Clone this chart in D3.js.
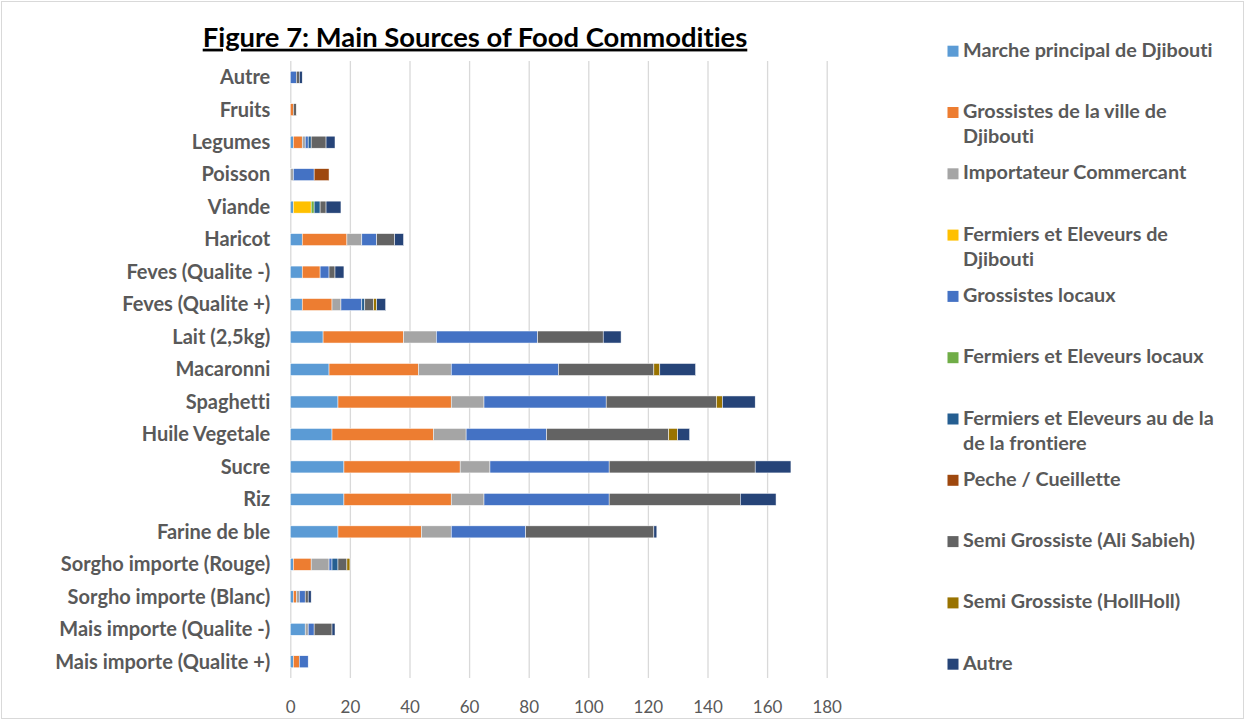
<!DOCTYPE html>
<html>
<head>
<meta charset="utf-8">
<script src="https://cdn.jsdelivr.net/npm/d3@7"></script>
<style>
  html, body { margin: 0; padding: 0; background: #fff; }
  svg { display: block; }
  text { font-variant-ligatures: none; font-feature-settings: "liga" 0, "clig" 0; }
</style>
</head>
<body>
<svg id="chart" width="1246" height="721"></svg>
<script>
const categories = ["Autre","Fruits","Legumes","Poisson","Viande","Haricot","Feves (Qualite -)","Feves (Qualite +)","Lait (2,5kg)","Macaronni","Spaghetti","Huile Vegetale","Sucre","Riz","Farine de ble","Sorgho importe (Rouge)","Sorgho importe (Blanc)","Mais importe (Qualite -)","Mais importe (Qualite +)"];

const seriesNames = ["Marche principal de Djibouti","Grossistes de la ville de Djibouti","Importateur Commercant","Fermiers et Eleveurs de Djibouti","Grossistes locaux","Fermiers et Eleveurs locaux","Fermiers et Eleveurs au de la de la frontiere","Peche / Cueillette","Semi Grossiste (Ali Sabieh)","Semi Grossiste (HollHoll)","Autre"];

const seriesColors = ["#5B9BD5","#ED7D31","#A5A5A5","#FFC000","#4472C4","#70AD47","#255E91","#9E480E","#636363","#997300","#264478"];

const marchePrincipal   = [0,0,1,0,1,4,4,4,11,13,16,14,18,18,16,1,1,5,1];
const grossistesVille   = [0,1,3,0,0,15,6,10,27,30,38,34,39,36,28,6,1,0,2];
const importateur       = [0,0,1,1,0,5,0,3,11,11,11,11,10,11,10,6,1,1,0];
const fermiersDjibouti  = [0,0,0,0,6,0,0,0,0,0,0,0,0,0,0,0,0,0,0];
const grossistesLocaux  = [2,0,1,7,0,5,3,7,34,36,41,27,40,42,25,1,2,2,3];
const fermiersLocaux    = [0,0,0,0,1,0,0,0,0,0,0,0,0,0,0,0,0,0,0];
const fermiersFrontiere = [0,0,1,0,2,0,0,1,0,0,0,0,0,0,0,2,0,0,0];
const pecheCueillette   = [0,0,0,5,0,0,0,0,0,0,0,0,0,0,0,0,0,0,0];
const semiAliSabieh     = [1,1,5,0,2,6,2,3,22,32,37,41,49,44,43,3,1,6,0];
const semiHollHoll      = [0,0,0,0,0,0,0,1,0,2,2,3,0,0,0,1,0,0,0];
const autreSource       = [1,0,3,0,5,3,3,3,6,12,11,4,12,12,1,0,1,1,0];

const xTicks = [0,20,40,60,80,100,120,140,160,180];
const titleText = "Figure 7: Main Sources of Food Commodities";

const seriesValues = [marchePrincipal,grossistesVille,importateur,fermiersDjibouti,grossistesLocaux,fermiersLocaux,fermiersFrontiere,pecheCueillette,semiAliSabieh,semiHollHoll,autreSource];

const keys = seriesNames;
const table = categories.map((c, i) => {
  const row = {category: c};
  keys.forEach((k, j) => row[k] = seriesValues[j][i]);
  return row;
});

const FONT = "Lato, 'Open Sans', sans-serif";
const svg = d3.select("#chart");

// outer border
svg.append("rect").attr("x", 1.5).attr("y", 1.5).attr("width", 1242).attr("height", 717)
  .attr("fill", "#fff").attr("stroke", "#d9d9d9").attr("stroke-width", 1);

const plotTop = 61, plotBottom = 678;
const x = d3.scaleLinear().domain([0, 180]).range([290.3, 826.7]);
const y = d3.scaleBand().domain(categories).range([plotTop, plotBottom]).paddingInner(0.63).paddingOuter(0.315);
const color = d3.scaleOrdinal().domain(keys).range(seriesColors);

// gridlines
const grid = svg.append("g").attr("transform", `translate(0,${plotBottom})`)
  .call(d3.axisBottom(x).tickValues(xTicks).tickSize(-(plotBottom - plotTop)).tickFormat(""));
grid.select(".domain").remove();
grid.selectAll("line").attr("stroke", "#d9d9d9").attr("stroke-width", 1.3);

// x labels
const xl = svg.append("g").attr("transform", `translate(0,${plotBottom})`)
  .call(d3.axisBottom(x).tickValues(xTicks).tickSize(0).tickFormat(d3.format("d")));
xl.select(".domain").remove();
xl.selectAll("text").attr("y", 34.5).attr("dy", 0)
  .attr("fill", "#595959").style("font-family", FONT).style("font-size", "17px");

// bars
const stack = d3.stack().keys(keys);
const stacked = stack(table);
svg.append("g").selectAll("g").data(stacked).join("g")
  .attr("fill", d => color(d.key))
  .selectAll("rect").data(d => d.filter(s => s[1] - s[0] > 0)).join("rect")
  .attr("x", d => x(d[0]))
  .attr("width", d => x(d[1]) - x(d[0]))
  .attr("y", d => y(d.data.category))
  .attr("height", y.bandwidth())
  .attr("stroke", "#fff").attr("stroke-width", 0.5);

// y labels
const yl = svg.append("g").attr("transform", `translate(${x(0)},0)`)
  .call(d3.axisLeft(y).tickSize(0).tickPadding(20));
yl.select(".domain").remove();
yl.selectAll("text").attr("fill", "#595959").style("font-family", FONT)
  .style("font-size", "20px").style("font-weight", "bold").attr("dy", "0.34em");

// title
svg.append("text").attr("x", 475).attr("y", 46.7).attr("text-anchor", "middle")
  .style("font-family", FONT).style("font-size", "27.4px").style("font-weight", "bold")
  .style("text-decoration", "underline").attr("fill", "#000").text(titleText);

// legend
const legend = svg.append("g").style("font-family", FONT).style("font-size", "19.8px").style("font-weight", "bold");
const maxW = 262;
keys.forEach((k, i) => {
  const base = 56.7 + i * 61.3;
  const g = legend.append("g");
  g.append("rect").attr("x", 947.5).attr("y", base - 11).attr("width", 11).attr("height", 11).attr("fill", color(k));
  const t = g.append("text").attr("x", 963).attr("y", base).attr("fill", "#595959");
  const words = k.split(" ");
  let line = [], lineNo = 0;
  let tspan = t.append("tspan").attr("x", 963).attr("y", base);
  words.forEach(w => {
    line.push(w);
    tspan.text(line.join(" "));
    if (tspan.node().getComputedTextLength() > maxW && line.length > 1) {
      line.pop();
      tspan.text(line.join(" "));
      line = [w];
      lineNo++;
      tspan = t.append("tspan").attr("x", 963).attr("y", base + lineNo * 25.3).text(w);
    }
  });
});
</script>
</body>
</html>
